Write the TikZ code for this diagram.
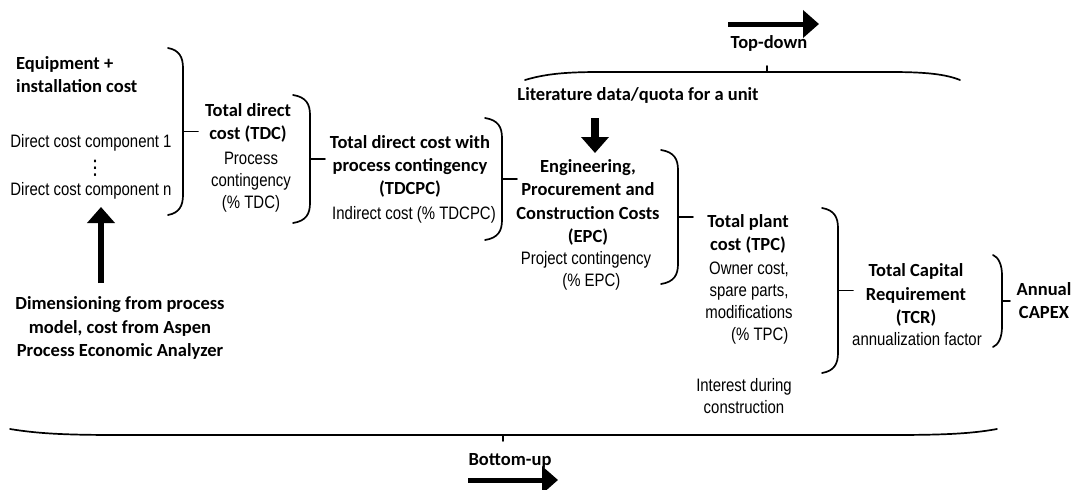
\documentclass[tikz,border=0pt]{standalone}
\usepackage{fontspec}
\setmainfont{Carlito}
\newfontfamily\narrowfont[FakeStretch=0.83]{Liberation Sans}
\newfontfamily\symbolfont{DejaVu Sans}
\usetikzlibrary{arrows.meta}

% right-hand curly bracket: tip x, spine x, top y, bottom y, end of the middle tick
\newcommand{\costbrace}[5]{%
  \draw[curly] (#1,#3) .. controls (#2-4,#3+2) and (#2,#3+9) .. (#2,#3+20)
     -- (#2,#4-20) .. controls (#2,#4-9) and (#2-4,#4-2) .. (#1,#4);
  \draw[curly] (#2,{(#3+#4)/2}) -- (#5,{(#3+#4)/2});
}

\begin{document}
\begin{tikzpicture}[x=1pt,y=-1pt,
  title/.style={font=\fontsize{18.5}{23.3}\selectfont\bfseries, align=center, inner sep=0pt},
  note/.style={font=\fontsize{18}{22}\selectfont\narrowfont, align=center, inner sep=0pt},
  curly/.style={line width=1.7pt, line cap=round},
  bigarrow/.style={line width=#1, -{Triangle[length=16pt,width=27pt]}},
]
\useasboundingbox (0,0) rectangle (1074,490);

% ---- bottom-up branch
\node[title, anchor=west, align=left] (equip) at (16,74.5) {Equipment +\\installation cost};
\node[note] (dc1) at (91,143) {Direct cost component 1};
\node[inner sep=0pt, font=\fontsize{20}{20}\selectfont\symbolfont] (dcdots) at (95,168) {⋮};
\node[note] (dcn) at (91,191) {Direct cost component n};
\costbrace{168}{183}{48}{215}{198}

\node[title] (dim) at (120,328) {Dimensioning from process\\model, cost from Aspen\\Process Economic Analyzer};
\coordinate (dimArrow) at (101,283);
\coordinate (dcArrow) at (101,207);
\draw[bigarrow=6pt] (dimArrow) -- (dcArrow);

\node[title] (tdc) at (248,123) {Total direct\\cost (TDC)};
\node[note] (pc) at (251,182) {Process\\contingency\\(\% TDC)};
\costbrace{293}{310}{95}{223}{325}

\node[title] (tdcpc) at (410,166.5) {Total direct cost with\\process contingency\\(TDCPC)};
\node[note] (ic) at (414,215) {Indirect cost (\% TDCPC)};
\costbrace{485}{502}{118}{240}{517}

% ---- top-down entry point
\node[title] (lit) at (638,95) {Literature data/quota for a unit};
\coordinate (litArrow) at (595,118);
\coordinate (epcArrow) at (595,153);
\draw[bigarrow=8pt] (litArrow) -- (epcArrow);

\node[title] (epc) at (588,202.5) {Engineering,\\Procurement and\\Construction Costs\\(EPC)};
\node[note] (pjc) at (586,271) {Project contingency\\\hspace*{0.6em}(\% EPC)};
\costbrace{661}{678}{150}{284}{693}

\node[title] (tpc) at (748,234) {Total plant\\cost (TPC)};
\node[note] (own) at (749,303) {Owner cost,\\spare parts,\\modifications\\\hspace*{1.2em}(\% TPC)};
\node[note] (idc) at (744,396) {Interest during\\construction};
\costbrace{822}{838}{208}{373}{853}

\node[title] (tcr) at (916,295) {Total Capital\\Requirement\\(TCR)};
\node[note] (af) at (917,339) {annualization factor};
\costbrace{993}{1002}{255}{347}{1010}
\node[title] (capex) at (1044,300.5) {Annual\\CAPEX};

% ---- span of the top-down estimate
\draw[curly] (525,80) .. controls (545,74) and (565,72) .. (600,72) -- (890,72)
   .. controls (925,72) and (945,74) .. (960,80);
\draw[curly] (767,72) -- (767,66);
\node[title] (td) at (769,43) {Top-down};
\coordinate (tdA) at (728,24);
\coordinate (tdB) at (819,24);
\draw[bigarrow=5pt] (tdA) -- (tdB);

% ---- span of the bottom-up estimate
\draw[curly] (10,429) .. controls (40,434) and (70,435) .. (120,435) -- (890,435)
   .. controls (940,435) and (970,434) .. (997,429);
\draw[curly] (503,435) -- (503,441);
\node[title] (bu) at (510,461) {Bottom-up};
\coordinate (buA) at (468,480);
\coordinate (buB) at (558,480);
\draw[bigarrow=5pt] (buA) -- (buB);
\end{tikzpicture}
\end{document}
